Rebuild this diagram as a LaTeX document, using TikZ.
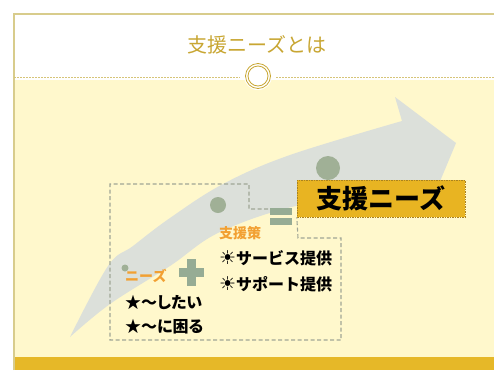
\documentclass[tikz,border=0pt]{standalone}
\usepackage{fontspec}
\newfontfamily\jp{Noto Sans CJK JP}
\newfontfamily\jpp[CharacterWidth=AlternateProportional]{Noto Sans CJK JP}
\newfontfamily\symf{DejaVu Sans}
\definecolor{bgyellow}{RGB}{255,248,204}
\definecolor{bargold}{RGB}{230,184,40}
\definecolor{framecol}{RGB}{216,204,140}
\definecolor{titledash}{RGB}{214,196,120}
\definecolor{titlegold}{RGB}{200,166,50}
\definecolor{arrowgray}{RGB}{220,224,218}
\definecolor{dotgreen}{RGB}{160,176,150}
\definecolor{signgreen}{RGB}{150,172,148}
\definecolor{dashgray}{RGB}{160,166,150}
\definecolor{boxgold}{RGB}{232,180,34}
\definecolor{boxedge}{RGB}{170,130,30}
\definecolor{orangetx}{RGB}{242,160,50}
\tikzset{
  bodytxt/.style={anchor=west, inner sep=0pt, text=black, font=\jp\bfseries\fontsize{16}{19}\selectfont},
  proptxt/.style={anchor=west, inner sep=0pt, text=black, font=\jpp\bfseries\fontsize{16}{19}\selectfont},
  orangelabel/.style={anchor=west, inner sep=0pt, text=orangetx, font=\jp\bfseries\fontsize{14}{16}\selectfont},
  outline/.style={draw=dashgray, line width=1.1pt, dash pattern=on 4pt off 2.5pt},
  ringline/.style={draw=titlegold, line width=0.8pt},
  sunsym/.style={font=\symf\mdseries\fontsize{19}{19}\selectfont},
}
\begin{document}
\begin{tikzpicture}[x=1pt,y=-1pt]
\useasboundingbox (0,0) rectangle (494,370);
\fill[white] (0,0) rectangle (494,370);
% slide body
\fill[bgyellow] (14,80) rectangle (494,357);
\fill[bargold] (14,357) rectangle (494,370);
\draw[framecol, line width=1.3pt] (14,370) -- (14,14) -- (494,14);
% title line and ring
\draw[titledash, line width=0.8pt, dash pattern=on 2pt off 1pt] (14,77) -- (240,77);
\draw[titledash, line width=0.8pt, dash pattern=on 2pt off 1pt] (276,77) -- (494,77);
\fill[white] (258,76) circle (14);
\draw[ringline] (258,76) circle (12.5);
\draw[ringline] (258,76) circle (10);
\node[text=titlegold, font=\jp\fontsize{20}{24}\selectfont, inner sep=0pt] (title) at (257,45) {支援ニーズとは};
% big curved arrow
\fill[arrowgray] plot[smooth, tension=0.6] coordinates {(70,337) (108,266) (133,246) (170,218) (223,184) (290,155) (402,121)}
  -- (395,97) -- (456,143) -- (428,210) -- (420,186)
  -- plot[smooth, tension=0.6] coordinates {(420,186) (300,205) (220,232) (170,266) (110,304) (70,337)} -- cycle;
% dots
\fill[dotgreen] (328,168) circle (12);
\fill[dotgreen] (218,205) circle (8);
\fill[dotgreen] (125,268) circle (3.5);
% gold box
\node[draw=boxedge, line width=0.4pt, dash pattern=on 1.5pt off 1pt, fill=boxgold,
      minimum width=168, minimum height=37, inner sep=0pt,
      font=\jp\bfseries\fontsize{26}{30}\selectfont] (needsbox) at (381,198.5) {支援ニーズ};
% dashed outline
\draw[outline] (268,209) -- (249,209) -- (249,184) -- (110,184) -- (110,340) -- (341,340) -- (341,238) -- (298,238) -- (needsbox.south west);
% equals sign
\fill[signgreen] (270,208) rectangle (292,215);
\fill[signgreen] (270,218) rectangle (292,225);
% plus sign
\fill[signgreen] (187,259) rectangle (196,286);
\fill[signgreen] (179,267.5) rectangle (204,277);
% texts
\node[orangelabel] (measures) at (219,233) {支援策};
\node[orangelabel] (needs) at (125,276) {ニーズ};
\node[bodytxt] (service) at (219,258) {{\tikzset{}\symf\mdseries\fontsize{19}{19}\selectfont ☀}サービス提供};
\node[bodytxt] (support) at (219,284) {{\symf\mdseries\fontsize{19}{19}\selectfont ☀}サポート提供};
\node[proptxt] (want) at (125,303) {★～したい};
\node[proptxt] (trouble) at (125,327) {★～に困る};
\end{tikzpicture}
\end{document}
